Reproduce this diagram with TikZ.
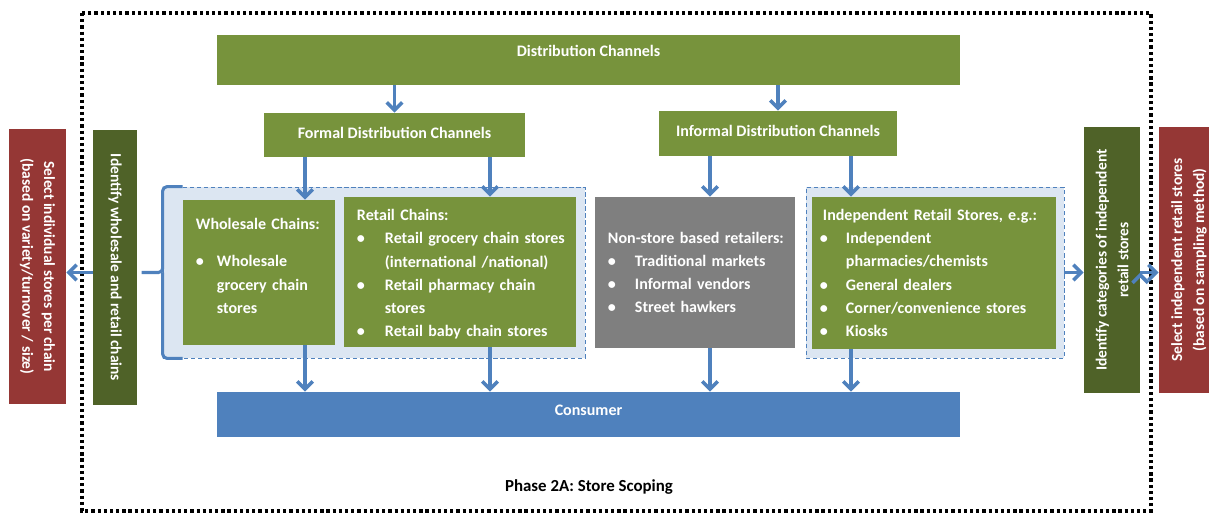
\documentclass[tikz,border=0pt]{standalone}
\usepackage{fontspec}
\setmainfont{Carlito}
\usepackage{tikz}
\usetikzlibrary{arrows, arrows.meta, positioning}
\usepackage{xcolor}

\definecolor{chgreen}{HTML}{77933C}
\definecolor{chdark}{HTML}{4F6228}
\definecolor{chred}{HTML}{953735}
\definecolor{chblue}{HTML}{4F81BD}
\definecolor{chgrey}{HTML}{7F7F7F}
\definecolor{chpale}{HTML}{DCE6F2}

\newlength{\bulw}
\newcommand{\itm}[1]{\makebox[\bulw][l]{\textbullet}\mbox{#1}}
\newcommand{\cnt}[1]{\hspace*{\bulw}\mbox{#1}}

\begin{document}
\begin{tikzpicture}[x=0.025cm,y=-0.025cm,>={Straight Barb[length=5.5pt,width=11pt]},font={\fontsize{11.4}{16.5}\selectfont\bfseries}]
    \tikzstyle{chan}=[fill=chgreen,text=white,inner sep=0pt,text height=8pt]
    \tikzstyle{kind}=[text=white,align=left,inner xsep=0.325cm,inner ysep=0pt]
    \tikzstyle{side}=[text=white,align=center,inner sep=0pt,font={\fontsize{11}{15.5}\selectfont\bfseries}]
    \tikzstyle{group}=[fill=chpale,draw=chblue,densely dashed,thin,inner sep=0pt]
    \tikzstyle{flow}=[->,draw=chblue,line width=2.6pt]

    \useasboundingbox (0,0) rectangle (1209,513);
    \clip (0,0) rectangle (1209,513);

    % dotted frame round the phase
    \draw[line width=2.5pt,dash pattern=on 2.3pt off 2.1pt] (82,13) rectangle (1151,511);
    \node (phase) at (589,487) {\fontsize{12}{14}\selectfont Phase 2A: Store Scoping};

    % channels
    \node[chan,text depth=12.4pt,minimum width=18.575cm,minimum height=1.25cm] (dist) at (588.5,60) {Distribution Channels};
    \node[chan,text depth=3.2pt,minimum width=6.525cm,minimum height=1.1cm] (formal) at (394.5,135) {Formal Distribution Channels};
    \node[chan,text depth=3.2pt,minimum width=5.95cm,minimum height=1.125cm] (informal) at (778,133.5) {Informal Distribution Channels};

    % shaded groups
    \node[group,minimum width=10.55cm,minimum height=4.275cm] (grpL) at (374,272.5) {};
    \node[group,minimum width=6.45cm,minimum height=4.275cm] (grpR) at (935,272.5) {};

    % store types
    \node[kind,fill=chgreen,text width=3.15cm,minimum height=3.625cm] (whole) at (259,272.5)
        {\setlength{\bulw}{0.525cm}\mbox{Wholesale Chains:}\\[10pt]
         \itm{Wholesale}\\
         \cnt{grocery chain}\\
         \cnt{stores}\par\vspace{-7pt}\hbox{}};
    \node[kind,fill=chgreen,text width=5.15cm,minimum height=3.75cm] (retail) at (460,272)
        {\setlength{\bulw}{0.7cm}\mbox{Retail Chains:}\\
         \itm{Retail grocery chain stores}\\
         \cnt{(international /national)}\\
         \itm{Retail pharmacy chain}\\
         \cnt{stores}\\
         \itm{Retail baby chain stores}\par\vspace{-18pt}\hbox{}};
    \node[kind,fill=chgrey,text width=4.35cm,minimum height=3.775cm] (nonstore) at (695,272.5)
        {\setlength{\bulw}{0.675cm}\mbox{Non-store based retailers:}\\
         \itm{Traditional markets}\\
         \itm{Informal vendors}\\
         \itm{Street hawkers}};
    \node[kind,fill=chgreen,inner xsep=0.2cm,text width=5.7cm,minimum height=3.8cm] (indep) at (934,273)
        {\setlength{\bulw}{0.65cm}\hspace*{0.075cm}\mbox{Independent Retail Stores, e.g.:}\\
         \itm{Independent}\\
         \cnt{pharmacies/chemists}\\
         \itm{General dealers}\\
         \itm{Corner/convenience stores}\\
         \itm{Kiosks}};

    \node[chan,fill=chblue,text depth=6.8pt,minimum width=18.575cm,minimum height=1.125cm] (consumer) at (588.5,414.5) {Consumer};

    % steps at the sides
    \node[side,fill=chdark,rotate=-90,minimum width=6.875cm,minimum height=1.1cm] (idL) at (115,267.5)
        {Identify wholesale and retail chains};
    \node[side,fill=chred,rotate=-90,minimum width=6.875cm,minimum height=1.425cm] (selL) at (37.5,266.5)
        {Select individual stores per chain\\(based on variety/turnover / size)};
    \node[side,fill=chdark,rotate=90,minimum width=6.65cm,minimum height=1.4cm] (idR) at (1112,260)
        {Identify categories of independent\\retail stores};
    \node[side,fill=chred,rotate=90,minimum width=6.65cm,minimum height=1.5cm] (selR) at (1189,260)
        {Select independent retail stores\\(based on sampling method)};

    % brace round the chains
    \draw[chblue,line width=2.2pt,rounded corners=3pt]
        ([xshift=0.5cm]grpL.north west) -- (grpL.north west) -- (grpL.west) -- ++(-21,0)
        (grpL.west) -- (grpL.south west) -- ([xshift=0.5cm]grpL.south west);

    \coordinate (c1) at (305,0);
    \coordinate (c2) at (490,0);
    \coordinate (c3) at (710,0);
    \coordinate (c4) at (851,0);

    \path[flow]
    (dist.south -| formal) edge (formal)
    (dist.south -| informal) edge (informal)
    (formal.south -| c1) edge (whole.north -| c1)
    (formal.south -| c2) edge (retail.north -| c2)
    (informal.south -| c3) edge (nonstore.north -| c3)
    (informal.south -| c4) edge (indep.north -| c4)
    (whole.south -| c1) edge (consumer.north -| c1)
    (retail.south -| c2) edge (consumer.north -| c2)
    (nonstore.south -| c3) edge (consumer.north -| c3)
    (indep.south -| c4) edge (consumer.north -| c4)
    (idL.south |- grpL.west) edge (selL.north |- grpL.west)
    (grpR.east) edge (idR.north |- grpR.east)
    (idR.south |- grpR.east) edge (selR.north |- grpR.east)
    ;
\end{tikzpicture}
\end{document}
